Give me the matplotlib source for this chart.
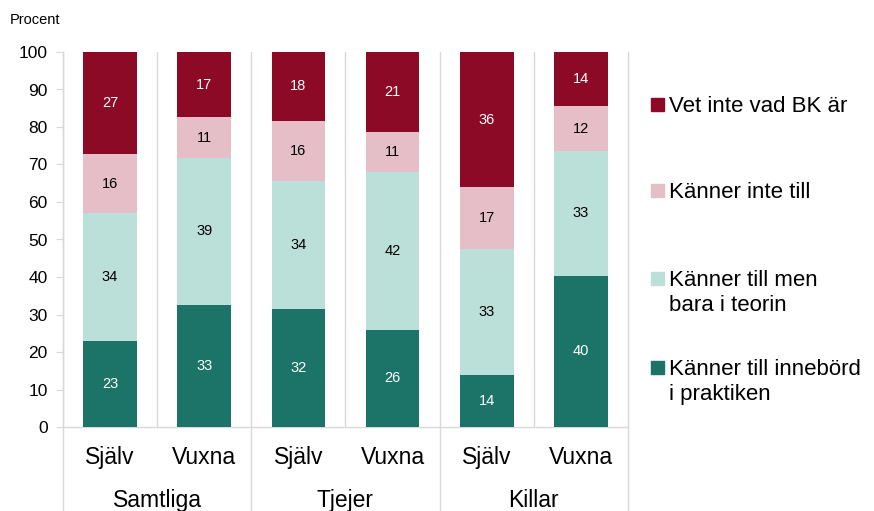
import matplotlib
matplotlib.use("Agg")
import matplotlib.pyplot as plt
from matplotlib.patches import Rectangle
import numpy as np

plt.rcParams['font.family'] = ['Liberation Sans', 'DejaVu Sans']

groups = ["Samtliga", "Tjejer", "Killar"]
respondents = ["Själv", "Vuxna", "Själv", "Vuxna", "Själv", "Vuxna"]

# shares per bar (percent), bottom to top
praktik = [22.9, 32.6, 31.6, 26.0, 14.0, 40.4]
teori = [34.1, 39.1, 34.0, 42.1, 33.4, 33.2]
inte_till = [15.8, 10.9, 16.0, 10.6, 16.6, 12.0]
vet_inte = [27.2, 17.4, 18.4, 21.3, 36.0, 14.4]

series = [
    ("Känner till innebörd\ni praktiken", praktik, "#1c7368", "white"),
    ("Känner till men\nbara i teorin", teori, "#bbe0da", "black"),
    ("Känner inte till", inte_till, "#e5bec8", "black"),
    ("Vet inte vad BK är", vet_inte, "#8c0a26", "white"),
]

grid_col = "#d9d9d9"

fig = plt.figure(figsize=(8.74, 5.11), dpi=100)
ax = fig.add_axes([63 / 874, 1 - 427 / 511, 565 / 874, 375 / 511])

x = np.arange(len(respondents))
bottom = np.zeros(len(x))
for name, vals, col, tcol in series:
    vals = np.array(vals, dtype=float)
    ax.bar(x, vals, bottom=bottom, width=0.57, color=col, zorder=3)
    for xi, b, v in zip(x, bottom, vals):
        ax.text(xi, b + v / 2, f"{v:.0f}", ha="center", va="center",
                color=tcol, fontsize=10.5, zorder=4)
    bottom += vals

ax.set_xlim(-0.5, len(x) - 0.5)
ax.set_ylim(0, 100)
ax.set_yticks(range(0, 101, 10))
ax.tick_params(axis="y", length=5, color=grid_col, labelsize=12.5, pad=6)
ax.tick_params(axis="x", length=0)
ax.set_xticks([])

for s in ["top", "right"]:
    ax.spines[s].set_visible(False)
for s in ["left", "bottom"]:
    ax.spines[s].set_color(grid_col)
    ax.spines[s].set_linewidth(1)

# separators between bars
for xs in np.arange(0.5, len(x) - 0.5, 1.0):
    ax.plot([xs, xs], [0, 100], color=grid_col, lw=1, zorder=1)

# separators in category area
for xs in [-0.5, 1.5, 3.5, 5.5]:
    ax.plot([xs, xs], [-22.4, 100 if xs in (-0.5, 5.5) else 0],
            color=grid_col, lw=1, clip_on=False, zorder=1)

for xi, lab in zip(x, respondents):
    ax.text(xi, -8, lab, ha="center", va="center", fontsize=16.5)
for gi, g in enumerate(groups):
    ax.text(gi * 2 + 0.5, -19.5, g, ha="center", va="center", fontsize=16.5)

fig.text(10 / 874, 1 - 20 / 511, "Procent", fontsize=10.5, va="center")

# legend, top to bottom
leg_y = [104.5, 191, 278.5, 367.5]
for (name, vals, col, tcol), yy in zip(series[::-1], leg_y):
    fig.patches.append(Rectangle((651 / 874, 1 - (yy + 6.5) / 511), 13 / 874, 13 / 511,
                                 transform=fig.transFigure, color=col, figure=fig))
    fig.text(669 / 874, 1 - (yy - 9) / 511, name, fontsize=16, va="top",
             linespacing=1.27)

fig.savefig("out.png", dpi=100)
